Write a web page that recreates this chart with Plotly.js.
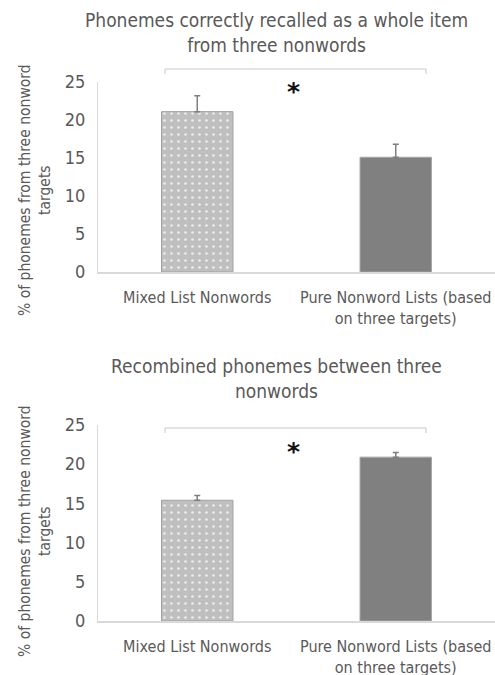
<!DOCTYPE html>
<html><head><meta charset="utf-8">
<script src="https://cdn.plot.ly/plotly-3.0.1.min.js"></script>
<style>html,body{margin:0;padding:0;background:#fff}#chart{width:495px;height:675px}</style>
</head><body><div id="chart"></div>
<script>
const categories = ["Mixed List Nonwords", "Pure Nonword Lists (based<br>on three targets)"];
const wholeItemValues = [21.1, 15.1];
const wholeItemErrors = [2.1, 1.7];
const recombinedValues = [15.4, 20.9];
const recombinedErrors = [0.6, 0.6];
const titles = ["Phonemes correctly recalled as a whole item<br>from three nonwords", "Recombined phonemes between three<br>nonwords"];
const yTitle = "% of phonemes from three nonword<br>targets";
const yTicks = [0, 5, 10, 15, 20, 25];

const FONT = "'Liberation Sans Narrow', 'DejaVu Sans Condensed', 'Roboto', sans-serif";
const TXT = "#595959";
const markers = [
  {color: "#bfbfbf", line: {color: "#a0a0a0", width: 1},
   pattern: {shape: ".", fillmode: "replace", bgcolor: "#bfbfbf", fgcolor: "#ececec", size: 7, solidity: 0.12}},
  {color: "#808080", line: {color: "#a6a6a6", width: 1}}
];
function bars(vals, errs, xa, ya) {
  return categories.map((c, i) => ({
    type: "bar", x: [c], y: [vals[i]], xaxis: xa, yaxis: ya, width: 0.36,
    marker: markers[i],
    error_y: {type: "data", symmetric: false, array: [errs[i]], arrayminus: [0], color: "#7f7f7f", thickness: 1.5, width: 3},
    hoverinfo: "none", showlegend: false
  }));
}
const data = bars(wholeItemValues, wholeItemErrors, "x", "y").concat(bars(recombinedValues, recombinedErrors, "x2", "y2"));

function yax(domain, anchor) {
  return {domain: domain, anchor: anchor, range: [0, 25], tickvals: yTicks, showgrid: false, zeroline: false,
    showline: true, linecolor: "#d9d9d9", linewidth: 1, ticks: "", ticklabelstandoff: 8,
    tickfont: {family: FONT, size: 18, color: TXT}, fixedrange: true};
}
function xax(anchor) {
  return {domain: [0, 1], anchor: anchor, range: [-0.5, 1.5], categoryorder: "array", categoryarray: categories,
    showline: true, linecolor: "#d9d9d9", linewidth: 1.5,
    ticks: "", ticklabelstandoff: 10, tickfont: {family: FONT, size: 16, color: TXT}, fixedrange: true};
}
const top1 = 0.8785, bot1 = 0.597, top2 = 0.3704, bot2 = 0.080;
const layout = {
  width: 495, height: 675, margin: {l: 98, r: 0, t: 0, b: 0},
  paper_bgcolor: "#fff", plot_bgcolor: "#fff", barmode: "overlay",
  xaxis: xax("y"), yaxis: yax([bot1, top1], "x"),
  xaxis2: xax("y2"), yaxis2: yax([bot2, top2], "x2"),
  font: {family: FONT, color: TXT},
  annotations: [
    {text: titles[0], xref: "paper", yref: "paper", x: 0.45, y: 1 - 33/675, xanchor: "center", yanchor: "middle", showarrow: false, font: {family: FONT, size: 19, color: TXT}},
    {text: titles[1], xref: "paper", yref: "paper", x: 0.45, y: 1 - 378/675, xanchor: "center", yanchor: "middle", showarrow: false, font: {family: FONT, size: 19, color: TXT}},
    {text: yTitle, xref: "paper", yref: "paper", x: -63/397, y: 1 - 190/675, xanchor: "center", yanchor: "middle", textangle: -90, showarrow: false, font: {family: FONT, size: 15.5, color: TXT}},
    {text: yTitle, xref: "paper", yref: "paper", x: -63/397, y: 1 - 531/675, xanchor: "center", yanchor: "middle", textangle: -90, showarrow: false, font: {family: FONT, size: 15.5, color: TXT}},
    {text: "<b>*</b>", xref: "paper", yref: "paper", x: (293-98)/397, y: 1 - 91/675, xanchor: "center", yanchor: "middle", showarrow: false, font: {family: "DejaVu Sans", size: 25, color: "#111"}},
    {text: "<b>*</b>", xref: "paper", yref: "paper", x: (293-98)/397, y: 1 - 451/675, xanchor: "center", yanchor: "middle", showarrow: false, font: {family: "DejaVu Sans", size: 25, color: "#111"}}
  ]
};
function bracket(yTopPx) {
  const x0 = (165-98)/397, x1 = (426-98)/397;
  const yt = 1 - yTopPx/675, yb = 1 - (yTopPx+5)/675;
  return [
    {type: "line", xref: "paper", yref: "paper", x0: x0, x1: x1, y0: yt, y1: yt, line: {color: "#c8c8c8", width: 1}},
    {type: "line", xref: "paper", yref: "paper", x0: x0, x1: x0, y0: yt, y1: yb, line: {color: "#c8c8c8", width: 1}},
    {type: "line", xref: "paper", yref: "paper", x0: x1, x1: x1, y0: yt, y1: yb, line: {color: "#c8c8c8", width: 1}}
  ];
}
layout.shapes = bracket(69).concat(bracket(428));
Plotly.newPlot("chart", data, layout, {staticPlot: true});
</script></body></html>
